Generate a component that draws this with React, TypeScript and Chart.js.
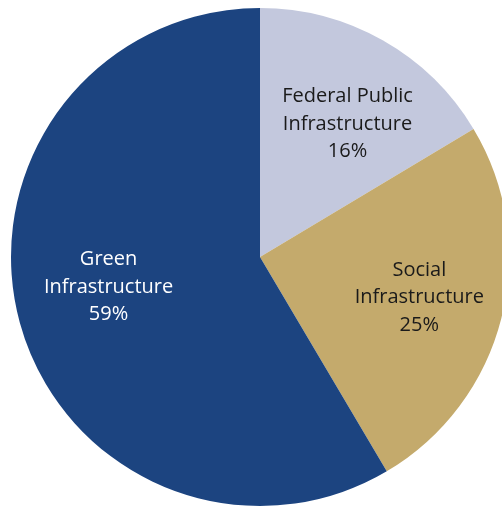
import React, { useEffect, useRef } from "react";
import { Chart, registerables } from "chart.js";

Chart.register(...registerables);

const categories = ["Federal Public Infrastructure", "Social Infrastructure", "Green Infrastructure"];
const labelLines = [["Federal Public", "Infrastructure"], ["Social", "Infrastructure"], ["Green", "Infrastructure"]];
const shares = [16.4, 25.1, 58.5];
const sliceColors = ["#C3C8DD", "#C4AA6C", "#1C4480"];
const textColors = ["#1a1a1a", "#1a1a1a", "#ffffff"];
// label placement: radial fraction of radius, angular tweak (degrees)
const labelRadial = [0.64, 0.66, 0.62];
const labelAngleShift = [3.8, 0, 4.1];

const labelPlugin = {
  id: "sliceLabels",
  afterDatasetsDraw(chart: any) {
    const ctx = chart.ctx;
    const meta = chart.getDatasetMeta(0);
    ctx.save();
    ctx.font = '20px "Open Sans", sans-serif';
    ctx.textAlign = "center";
    ctx.textBaseline = "middle";
    meta.data.forEach((arc: any, i: number) => {
      const mid = (arc.startAngle + arc.endAngle) / 2 + (labelAngleShift[i] * Math.PI) / 180;
      const r = arc.outerRadius * labelRadial[i];
      const cx = arc.x + Math.cos(mid) * r;
      const cy = arc.y + Math.sin(mid) * r;
      const lines = [...labelLines[i], Math.round(shares[i]) + "%"];
      const lh = 27.5;
      ctx.fillStyle = textColors[i];
      lines.forEach((t, k) => {
        ctx.fillText(t, cx, cy + (k - (lines.length - 1) / 2) * lh);
      });
    });
    ctx.restore();
  },
};

export default function App() {
  const ref = useRef<HTMLCanvasElement>(null);
  useEffect(() => {
    if (!ref.current) return;
    const chart = new Chart(ref.current, {
      type: "pie",
      data: {
        labels: categories,
        datasets: [
          {
            data: shares,
            backgroundColor: sliceColors,
            borderWidth: 0,
          },
        ],
      },
      options: {
        responsive: false,
        animation: false,
        layout: { padding: 8 },
        plugins: { legend: { display: false }, tooltip: { enabled: false } },
      },
      plugins: [labelPlugin],
    });
    return () => chart.destroy();
  }, []);
  return (
    <div style={{ position: "fixed", left: 0, top: 0, width: 502, height: 508, overflow: "hidden", background: "#fff" }}>
      <canvas ref={ref} width={520} height={514} style={{ width: 520, height: 514, display: "block" }} />
    </div>
  );
}
